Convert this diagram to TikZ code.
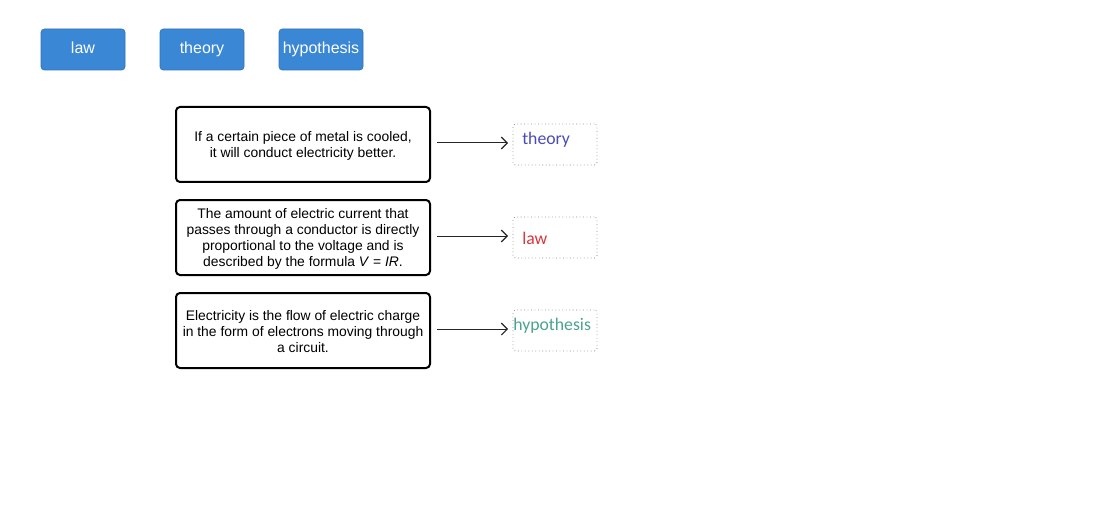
\documentclass[tikz,border=0pt]{standalone}
\usepackage{fontspec}
\setmainfont{Liberation Sans}
\newfontfamily\calib{Carlito}
\usetikzlibrary{arrows.meta}
\definecolor{btnblue}{HTML}{3A87D6}
\definecolor{ansblue}{HTML}{4B4BB8}
\definecolor{ansred}{HTML}{D9363E}
\definecolor{ansteal}{HTML}{4AA38F}
\tikzset{
  btn/.style={fill=btnblue, draw=btnblue!85!black, line width=0.5pt, rounded corners=2.5pt, text=white,
    minimum width=84*0.75pt, minimum height=41*0.75pt, inner sep=0pt, text height=9pt, text depth=2.5pt,
    font=\fontsize{12}{14}\selectfont},
  stmt/.style={draw=black, line width=1.5pt, rounded corners=3pt, minimum width=254*0.75pt,
    minimum height=75*0.75pt, align=center, inner sep=0pt, font=\fontsize{10.4}{12}\selectfont},
  sttxt/.style={align=center, inner sep=0pt, font=\fontsize{10.4}{12}\selectfont},
  slot/.style={draw=gray!90, dotted, line width=0.6pt, rounded corners=2pt, minimum width=84*0.75pt,
    minimum height=41*0.75pt, inner sep=0pt},
  ans/.style={anchor=west, inner sep=0pt, font=\calib\fontsize{13.3}{15}\selectfont},
  conn/.style={-{Straight Barb[length=4.5pt,width=9pt,line width=0.8pt]}, line width=0.75pt, black!85}
}
\begin{document}
\begin{tikzpicture}[x=0.75pt,y=-0.75pt]
\useasboundingbox (0,0) rectangle (1099,524);
\node[btn] (b1) at (83,49.5) {law};
\node[btn] (b2) at (202,49.5) {theory};
\node[btn] (b3) at (321,49.5) {hypothesis};

\node[stmt] (s1) at (303,144.5) {};
\node[stmt] (s2) at (303,237.5) {};
\node[stmt] (s3) at (303,330.5) {};
\node[sttxt] (s1t) at (303,146) {If a certain piece of metal is cooled,\\ it will conduct electricity better.};
\node[sttxt] (s2t) at (303,239) {The amount of electric current that\\ passes through a conductor is directly\\ proportional to the voltage and is\\ described by the formula \textit{V} = \textit{IR}.};
\node[sttxt] (s3t) at (303,332) {Electricity is the flow of electric charge\\ in the form of electrons moving through\\ a circuit.};

\node[slot] (t1) at (555,144.5) {};
\node[slot] (t2) at (555,237.5) {};
\node[slot] (t3) at (555,330.5) {};

\node[ans, text=ansblue] (a1) at (522,139.5) {theory};
\node[ans, text=ansred] (a2) at (522,238) {law};
\node[ans, text=ansteal] (a3) at (513,325.5) {hypothesis};

\coordinate (e1) at (437,143); \coordinate (f1) at (508,143);
\coordinate (e2) at (437,236); \coordinate (f2) at (508,236);
\coordinate (e3) at (437,329); \coordinate (f3) at (508,329);
\draw[conn] (e1) -- (f1);
\draw[conn] (e2) -- (f2);
\draw[conn] (e3) -- (f3);
\end{tikzpicture}
\end{document}
